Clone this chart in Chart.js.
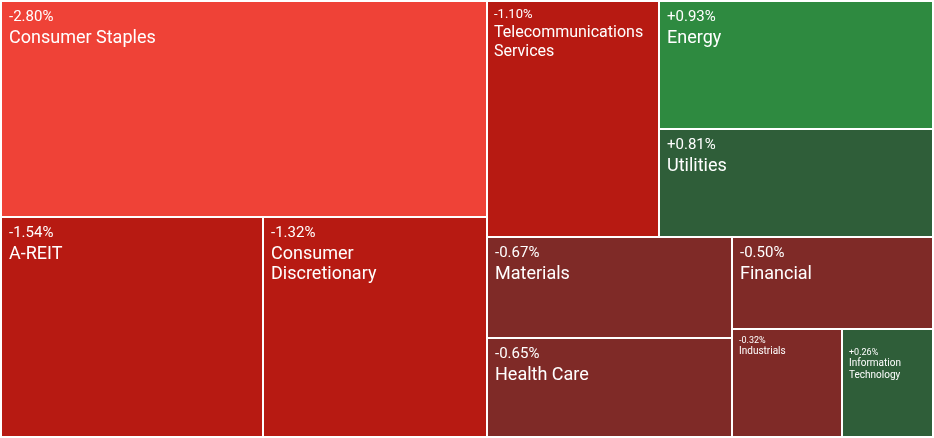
<!DOCTYPE html>
<html>
<head>
<meta charset="utf-8">
<script src="https://cdn.jsdelivr.net/npm/chart.js@4"></script>
<style>
  html, body { margin: 0; padding: 0; background: #fff; }
  #wrap { width: 934px; height: 438px; }
</style>
</head>
<body>
<div id="wrap"><canvas id="tree"></canvas></div>
<script>
// sector names, daily change (%) and relative size (weight)
const sectors = ["Consumer Staples", "A-REIT", "Consumer Discretionary", "Telecommunications Services",
  "Energy", "Utilities", "Materials", "Health Care", "Financial", "Industrials", "Information Technology"];
const changes = [-2.80, -1.54, -1.32, -1.10, 0.93, 0.81, -0.67, -0.65, -0.50, -0.32, 0.26];
const sizes = [105.7, 58.1, 49.5, 40.8, 35.5, 29.7, 25.1, 24.4, 18.5, 12.0, 9.9];

const colorFor = v => {
  if (v <= -2) return "#ef4237";
  if (v <= -1) return "#b71a12";
  if (v < 0) return "#7f2a27";
  if (v < 0.9) return "#2f5e39";
  return "#2e8a40";
};

// binary split layout: halves balanced by weight, direction alternates with depth
function layout(items, x0, y0, x1, y1, depth, out) {
  if (items.length === 1) {
    out.push({ ...items[0], x0, y0, x1, y1 });
    return;
  }
  const total = items.reduce((s, d) => s + d.size, 0);
  let acc = 0, best = 1, bestDiff = Infinity;
  for (let i = 0; i < items.length - 1; i++) {
    acc += items[i].size;
    const diff = Math.abs(acc - total / 2);
    if (diff < bestDiff) { bestDiff = diff; best = i + 1; }
  }
  const a = items.slice(0, best), b = items.slice(best);
  const f = a.reduce((s, d) => s + d.size, 0) / total;
  if (depth % 2 === 0) {
    const xm = x0 + (x1 - x0) * f;
    layout(a, x0, y0, xm, y1, depth + 1, out);
    layout(b, xm, y0, x1, y1, depth + 1, out);
  } else {
    const ym = y0 + (y1 - y0) * f;
    layout(a, x0, y0, x1, ym, depth + 1, out);
    layout(b, x0, ym, x1, y1, depth + 1, out);
  }
}

const items = sectors.map((name, i) => ({ name, change: changes[i], size: sizes[i] }))
  .sort((p, q) => q.size - p.size);
const cells = [];
layout(items, 0, 0, 1, 1, 0, cells);

const wrapWords = (ctx, text, maxW) => {
  const words = text.split(" ");
  const lines = [];
  let cur = "";
  words.forEach(w => {
    const t = cur ? cur + " " + w : w;
    if (cur && ctx.measureText(t).width > maxW) { lines.push(cur); cur = w; }
    else cur = t;
  });
  if (cur) lines.push(cur);
  return lines;
};

const fontFamily = "Roboto, 'Noto Sans', sans-serif";

// label sizes step down with cell width
const labelStyle = w => {
  if (w >= 190) return { pct: 15, name: 18, pctY: 19, nameGap: 22, lineH: 20, pad: 7, wrap: 0.8 };
  if (w >= 130) return { pct: 13, name: 16, pctY: 16, nameGap: 19, lineH: 19, pad: 6, wrap: 0.82 };
  return { pct: 9, name: 10, pctY: 13, nameGap: 11, lineH: 12, pad: 6, wrap: 0.85, small: true };
};

const treemapPlugin = {
  id: "treemapCells",
  afterDatasetsDraw(chart) {
    const { ctx, scales: { x, y } } = chart;
    ctx.save();
    cells.forEach(c => {
      const px0 = x.getPixelForValue(c.x0), px1 = x.getPixelForValue(c.x1);
      const py0 = y.getPixelForValue(c.y0), py1 = y.getPixelForValue(c.y1);
      const left = Math.round(px0) + 1, top = Math.round(py0) + 1;
      const w = Math.round(px1) - Math.round(px0) - 2, h = Math.round(py1) - Math.round(py0) - 2;
      ctx.fillStyle = colorFor(c.change);
      ctx.fillRect(left, top, w, h);

      const st = labelStyle(w);

      ctx.save();
      ctx.beginPath();
      ctx.rect(left, top, w, h);
      ctx.clip();
      ctx.fillStyle = "#ffffff";
      ctx.textBaseline = "alphabetic";
      ctx.textAlign = "left";

      ctx.font = st.name + "px " + fontFamily;
      const lines = wrapWords(ctx, c.name, w * st.wrap);
      let ty = top + st.pctY + (st.small ? (lines.length - 1) * st.lineH : 0);

      ctx.font = st.pct + "px " + fontFamily;
      const pct = (c.change > 0 ? "+" : "") + c.change.toFixed(2) + "%";
      ctx.fillText(pct, left + st.pad, ty);

      ctx.font = st.name + "px " + fontFamily;
      ty += st.nameGap;
      lines.forEach(l => {
        ctx.fillText(l, left + st.pad, ty);
        ty += st.lineH;
      });
      ctx.restore();
    });
    ctx.restore();
  }
};

new Chart(document.getElementById("tree"), {
  type: "scatter",
  data: { datasets: [{ data: [], pointRadius: 0 }] },
  options: {
    responsive: true,
    maintainAspectRatio: false,
    animation: false,
    layout: { padding: 1 },
    scales: {
      x: { type: "linear", min: 0, max: 1, display: false },
      y: { type: "linear", min: 0, max: 1, reverse: true, display: false }
    },
    plugins: { legend: { display: false }, tooltip: { enabled: false } }
  },
  plugins: [treemapPlugin]
});
</script>
</body>
</html>
